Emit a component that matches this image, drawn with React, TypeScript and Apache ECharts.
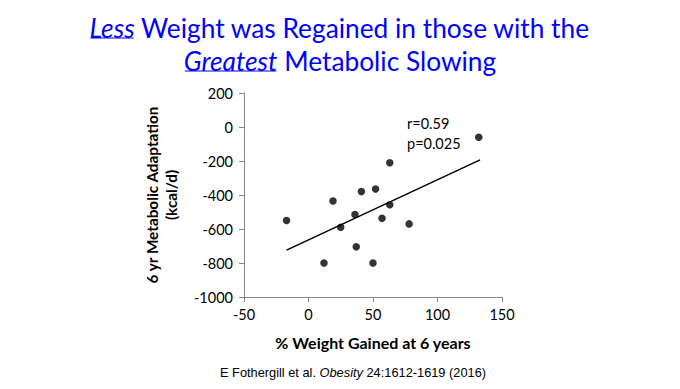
import React, { useEffect, useRef } from "react";
import * as echarts from "echarts";

const titleLine1 = [
  { text: "Less", emph: true },
  { text: " Weight was Regained in those with the", emph: false },
];
const titleLine2 = [
  { text: "Greatest", emph: true },
  { text: " Metabolic Slowing", emph: false },
];
const xAxisName = "% Weight Gained at 6 years";
const yAxisName = "6 yr Metabolic Adaptation\n(kcal/d)";
const statLines = ["r=0.59", "p=0.025"];
const caption = "E Fothergill et al. ";
const captionJournal = "Obesity";
const captionRest = " 24:1612-1619 (2016)";

const weightGained = [-17, 12, 19, 25, 36, 37, 41, 50, 52, 57, 63, 63, 78, 132];
const metabolicAdaptation = [-550, -800, -435, -590, -515, -705, -380, -800, -365, -537, -210, -457, -570, -60];
const trendX = [-17, 133];
const trendY = [-724, -193];

const FONT = "Lato";
const TITLE_SIZE = 26.3;
const BLUE = "#0000ff";

function measure(text: string, font: string): number {
  const t = new echarts.graphic.Text({ style: { text, font } } as any);
  return t.getBoundingRect().width;
}

function buildTitle(parts: { text: string; emph: boolean }[], cy: number, underlineY: number) {
  const fonts = parts.map((p) => `${p.emph ? "italic " : ""}normal ${TITLE_SIZE}px ${FONT}`);
  const widths = parts.map((p, i) => measure(p.text, fonts[i]));
  const total = widths.reduce((a, b) => a + b, 0);
  let x = 340 - total / 2;
  const els: any[] = [];
  parts.forEach((p, i) => {
    els.push({
      type: "text",
      x,
      y: cy,
      style: {
        text: p.text,
        font: fonts[i],
        fill: BLUE,
        textAlign: "left",
        textVerticalAlign: "middle",
      },
    });
    if (p.emph) {
      els.push({
        type: "line",
        shape: { x1: x + 1, y1: underlineY, x2: x + widths[i] - 1, y2: underlineY },
        style: { stroke: BLUE, lineWidth: 1 },
      });
    }
    x += widths[i];
  });
  return els;
}

export default function App() {
  const ref = useRef<HTMLDivElement>(null);
  useEffect(() => {
    if (!ref.current) return;
    const chart = echarts.init(ref.current, null, { renderer: "svg" });
    const points = weightGained.map((x, i) => [x, metabolicAdaptation[i]]);
    const trend = trendX.map((x, i) => [x, trendY[i]]);

    const capFont = "normal 12.8px 'Liberation Sans'";
    const capItalic = "italic 12.8px 'Liberation Sans'";
    const w1 = measure(caption, capFont);
    const w2 = measure(captionJournal, capItalic);
    const w3 = measure(captionRest, capFont);
    const cx = 353 - (w1 + w2 + w3) / 2;

    const graphic: any[] = [
      ...buildTitle(titleLine1, 28, 38),
      ...buildTitle(titleLine2, 60.5, 71),
      {
        type: "text",
        x: 407,
        y: 123,
        style: { text: statLines[0], font: `14.5px ${FONT}`, fill: "#000", textVerticalAlign: "middle" },
      },
      {
        type: "text",
        x: 407,
        y: 143,
        style: { text: statLines[1], font: `14.5px ${FONT}`, fill: "#000", textVerticalAlign: "middle" },
      },
      {
        type: "text",
        x: cx,
        y: 372,
        style: { text: caption, font: capFont, fill: "#000", textVerticalAlign: "middle" },
      },
      {
        type: "text",
        x: cx + w1,
        y: 372,
        style: { text: captionJournal, font: capItalic, fill: "#000", textVerticalAlign: "middle" },
      },
      {
        type: "text",
        x: cx + w1 + w2,
        y: 372,
        style: { text: captionRest, font: capFont, fill: "#000", textVerticalAlign: "middle" },
      },
    ];

    chart.setOption({
      animation: false,
      backgroundColor: "#ffffff",
      textStyle: { fontFamily: FONT },
      grid: { left: 244, right: 178, top: 93, bottom: 92, containLabel: false },
      xAxis: {
        type: "value",
        min: -50,
        max: 150,
        interval: 50,
        name: xAxisName,
        nameLocation: "middle",
        nameGap: 37,
        nameTextStyle: { fontFamily: FONT, fontWeight: "bold", fontSize: 16, color: "#000" },
        axisLine: { onZero: false, lineStyle: { color: "#868686", width: 1 } },
        axisTick: { show: true, inside: false, length: 5, lineStyle: { color: "#868686" } },
        axisLabel: { color: "#000", fontSize: 14.5, fontFamily: FONT, margin: 10, formatter: (v: number) => String(v) },
        splitLine: { show: false },
      },
      yAxis: {
        type: "value",
        min: -1000,
        max: 200,
        interval: 200,
        name: yAxisName,
        nameLocation: "middle",
        nameRotate: 90,
        nameGap: 64,
        nameTextStyle: { fontFamily: FONT, fontWeight: "bold", fontSize: 15.3, color: "#000", lineHeight: 19, align: "center" },
        axisLine: { show: true, onZero: false, lineStyle: { color: "#868686", width: 1 } },
        axisTick: { show: true, inside: false, length: 5, lineStyle: { color: "#868686" } },
        axisLabel: { color: "#000", fontSize: 14.5, fontFamily: FONT, margin: 11, formatter: (v: number) => String(v) },
        splitLine: { show: false },
      },
      series: [
        {
          type: "line",
          data: trend,
          symbol: "none",
          lineStyle: { color: "#000", width: 1.5 },
          silent: true,
          z: 1,
        },
        {
          type: "scatter",
          data: points,
          symbol: "circle",
          symbolSize: 7.5,
          itemStyle: { color: "#000" },
          z: 2,
        },
      ],
      graphic,
    });
    return () => chart.dispose();
  }, []);
  return (
    <div
      ref={ref}
      style={{ position: "fixed", left: 0, top: 0, width: 680, height: 389, background: "#fff" }}
    />
  );
}
